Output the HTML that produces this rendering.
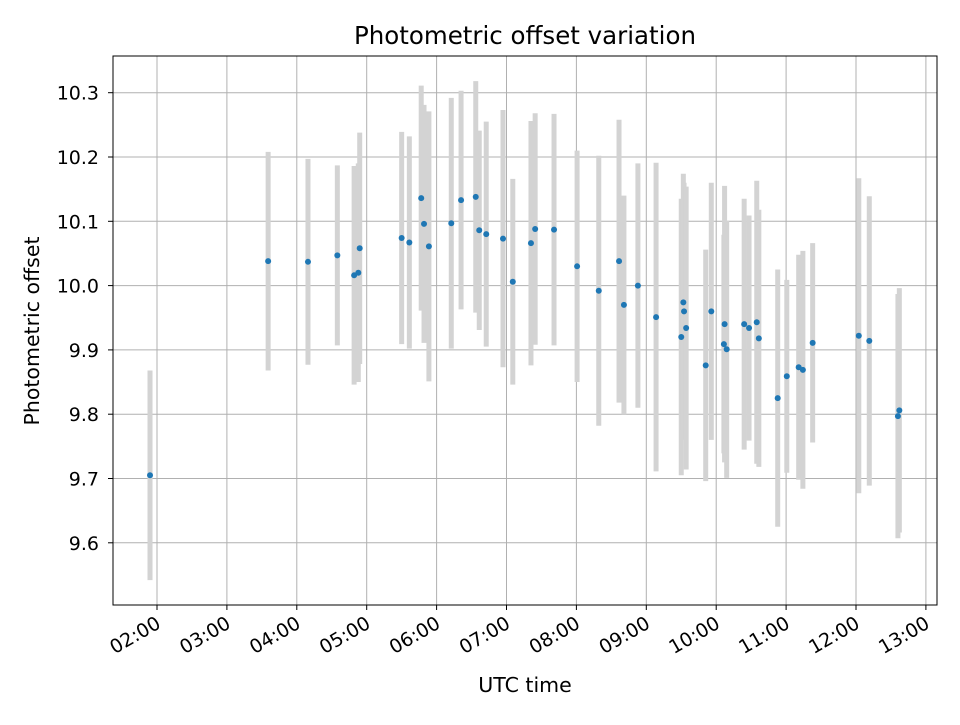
<!DOCTYPE html>
<html><head><meta charset="utf-8"><style>
body{margin:0;background:#fff;font-family:"Liberation Sans","DejaVu Sans",sans-serif;}
svg text{font-family:"DejaVu Sans","Liberation Sans",sans-serif;fill:#000;}
</style></head><body>
<svg id="chart" width="960" height="720">
<rect width="960" height="720" fill="#fff"/>
<text x="525" y="44" font-size="24.5" text-anchor="middle">Photometric offset variation</text>
<text x="525" y="692" font-size="20.5" text-anchor="middle">UTC time</text>
<text transform="translate(39,331) rotate(-90)" font-size="20.5" text-anchor="middle">Photometric offset</text>
<g id="grid"></g><g id="bars"></g><g id="pts"></g><g id="axes"></g>
</svg>
<script>
const times=[1.90,3.59,4.16,4.58,4.82,4.88,4.90,5.50,5.61,5.78,5.82,5.89,6.21,6.35,6.56,6.61,6.71,6.95,7.09,7.35,7.41,7.68,8.01,8.32,8.61,8.68,8.88,9.14,9.50,9.53,9.54,9.57,9.85,9.93,10.11,10.12,10.15,10.40,10.47,10.58,10.61,10.88,11.01,11.18,11.24,11.38,12.04,12.19,12.60,12.62];
const offsets=[9.705,10.038,10.037,10.047,10.016,10.020,10.058,10.074,10.067,10.136,10.096,10.061,10.097,10.133,10.138,10.086,10.080,10.073,10.006,10.066,10.088,10.087,10.030,9.992,10.038,9.970,10.000,9.951,9.920,9.974,9.960,9.934,9.876,9.960,9.909,9.940,9.901,9.940,9.934,9.943,9.918,9.825,9.859,9.873,9.869,9.911,9.922,9.914,9.797,9.806];
const errors=[0.163,0.17,0.16,0.14,0.17,0.17,0.18,0.165,0.165,0.175,0.185,0.21,0.195,0.17,0.18,0.155,0.175,0.2,0.16,0.19,0.18,0.18,0.18,0.21,0.22,0.17,0.19,0.24,0.215,0.2,0.2,0.22,0.18,0.2,0.17,0.215,0.2,0.195,0.175,0.22,0.2,0.2,0.15,0.175,0.185,0.155,0.245,0.225,0.19,0.19];
const xTicks=[2,3,4,5,6,7,8,9,10,11,12,13];
const xTickLabels=["02:00","03:00","04:00","05:00","06:00","07:00","08:00","09:00","10:00","11:00","12:00","13:00"];
const yTicks=[9.6,9.7,9.8,9.9,10.0,10.1,10.2,10.3];
const yTickLabels=["9.6","9.7","9.8","9.9","10.0","10.1","10.2","10.3"];
const L=113,R=937,T=56,B=605;
const xs=h=>157+(h-2)*69.9;
const ys=v=>285.6-(v-10)*643;
const NS="http://www.w3.org/2000/svg";
function mk(tag,attrs,parent,txt){const e=document.createElementNS(NS,tag);for(const k in attrs)e.setAttribute(k,attrs[k]);if(txt!==undefined)e.textContent=txt;parent.appendChild(e);return e;}
const grid=document.getElementById('grid'),bars=document.getElementById('bars'),pts=document.getElementById('pts'),axes=document.getElementById('axes');
xTicks.forEach((t,i)=>{const x=xs(t);
 const g=mk('line',{x1:x,x2:x,y1:T,y2:B,stroke:'#b0b0b0','stroke-width':1},grid);
 
 
 mk('line',{x1:x,x2:x,y1:B,y2:B+5,stroke:'#000','stroke-width':1},axes);
 const lb=mk('text',{x:0,y:0,'font-size':19,'text-anchor':'end',transform:`translate(${x+5},${B+22}) rotate(-30)`},axes,xTickLabels[i]);
 
 
});
yTicks.forEach((t,i)=>{const y=ys(t);
 const g=mk('line',{x1:L,x2:R,y1:y,y2:y,stroke:'#b0b0b0','stroke-width':1},grid);
 
 
 mk('line',{x1:L-5,x2:L,y1:y,y2:y,stroke:'#000','stroke-width':1},axes);
 const lb=mk('text',{x:L-14,y:y+7,'font-size':19,'text-anchor':'end'},axes,yTickLabels[i]);
 
 
});
times.forEach((t,i)=>{const x=xs(t);
 const b=mk('line',{x1:x,x2:x,y1:ys(offsets[i]+errors[i]),y2:ys(offsets[i]-errors[i]),stroke:'#d3d3d3','stroke-width':5},bars);
 
 
 const p=mk('circle',{cx:x,cy:ys(offsets[i]),r:3,fill:'#1f77b4'},pts);
 
 
});
const fr=mk('rect',{x:L,y:T,width:R-L,height:B-T,fill:'none',stroke:'#000','stroke-width':1},axes);


</script>
</body></html>
